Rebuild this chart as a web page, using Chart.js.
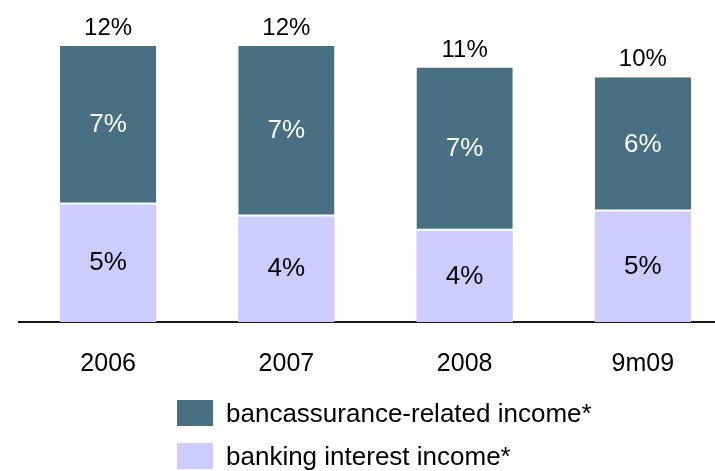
<!DOCTYPE html>
<html>
<head>
<meta charset="utf-8">
<script src="https://cdn.jsdelivr.net/npm/chart.js@4/dist/chart.umd.min.js"></script>
<style>
  html, body { margin: 0; padding: 0; background: #fff; overflow: hidden; }
  #wrap { position: relative; width: 732px; height: 471px; }
  #legend { position: absolute; left: 177px; top: 400px; font-family: "Liberation Sans", Arial, sans-serif; font-size: 26px; color: #000; }
  .row { display: flex; align-items: center; height: 26px; margin-bottom: 17px; white-space: nowrap; }
  .box { width: 36px; height: 26px; margin-right: 13px; }
</style>
</head>
<body>
<div id="wrap">
  <canvas id="barChart" width="732" height="471"></canvas>
  <div id="legend"></div>
</div>
<script>
const categories = ["2006", "2007", "2008", "9m09"];
const bankingInterest = [4.9, 4.4, 3.8, 4.6];
const bancassurance = [6.6, 7.1, 6.8, 5.6];
const bankingLabels = ["5%", "4%", "4%", "5%"];
const bancaLabels = ["7%", "7%", "7%", "6%"];
const totalLabels = ["12%", "12%", "11%", "10%"];

const fontFamily = '"Liberation Sans", Arial, sans-serif';

// writes the value labels in the bars and the totals on top
const barLabels = {
  id: "barLabels",
  afterDatasetsDraw(chart) {
    const ctx = chart.ctx;
    ctx.save();
    ctx.textAlign = "center";
    ctx.textBaseline = "middle";
    ctx.font = "26px " + fontFamily;
    chart.data.datasets.forEach(function(ds, i) {
      chart.getDatasetMeta(i).data.forEach(function(bar, j) {
        ctx.fillStyle = ds.labelColor;
        ctx.fillText(ds.valueLabels[j], bar.x, (bar.y + bar.base) / 2);
      });
    });
    const topMeta = chart.getDatasetMeta(chart.data.datasets.length - 1);
    ctx.textBaseline = "alphabetic";
    ctx.font = "24px " + fontFamily;
    ctx.fillStyle = "#000";
    topMeta.data.forEach(function(bar, j) {
      ctx.fillText(totalLabels[j], bar.x, bar.y - 11);
    });
    ctx.restore();
  }
};

const ctxBar = document.getElementById("barChart").getContext("2d");
const barChart = new Chart(ctxBar, {
  type: "bar",
  data: {
    labels: categories,
    datasets: [
      {
        label: "banking interest income*",
        data: bankingInterest,
        backgroundColor: "#CCCCFF",
        borderWidth: 0,
        valueLabels: bankingLabels,
        labelColor: "#000"
      },
      {
        label: "bancassurance-related income*",
        data: bancassurance,
        backgroundColor: "#497082",
        borderColor: "#fff",
        borderWidth: { top: 0, left: 0, right: 0, bottom: 2 },
        borderSkipped: false,
        valueLabels: bancaLabels,
        labelColor: "#fff"
      }
    ]
  },
  options: {
    responsive: false,
    animation: false,
    layout: { padding: { left: 19, right: 0, top: 10, bottom: 65 } },
    plugins: { legend: { display: false }, tooltip: { enabled: false } },
    datasets: { bar: { categoryPercentage: 1, barPercentage: 0.54 } },
    scales: {
      x: {
        stacked: true,
        grid: { display: false, drawTicks: false },
        border: { display: true, color: "#1a1a1a", width: 2 },
        ticks: { color: "#000", padding: 27, font: { family: fontFamily, size: 25 } }
      },
      y: {
        stacked: true,
        display: false,
        min: 0,
        max: 13
      }
    }
  },
  plugins: [barLabels]
});

// legend: dark series first, like the original
const legendEl = document.getElementById("legend");
barChart.data.datasets.slice().reverse().forEach(function(ds) {
  const row = document.createElement("div");
  row.className = "row";
  row.innerHTML = '<span class="box" style="background:' + ds.backgroundColor + '"></span>' + ds.label;
  legendEl.appendChild(row);
});
</script>
</body>
</html>
